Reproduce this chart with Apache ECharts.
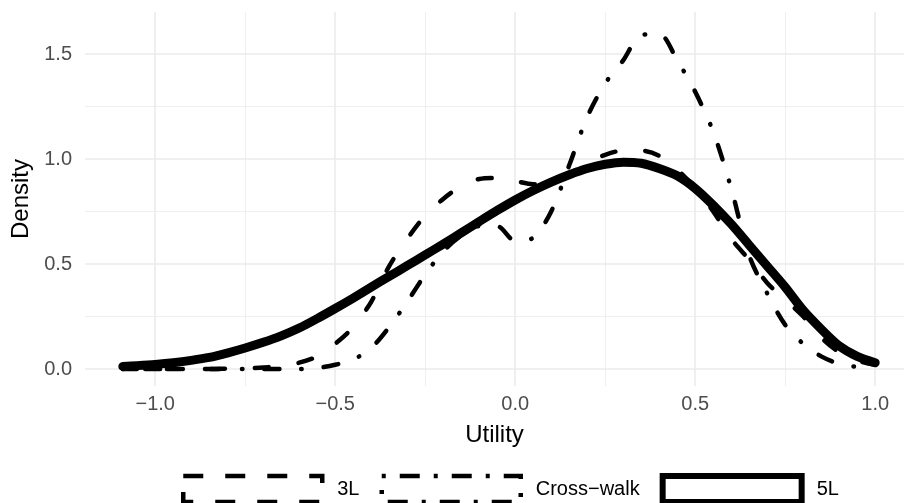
<!DOCTYPE html>
<html><head><meta charset="utf-8">
<script src="https://cdn.jsdelivr.net/npm/echarts@6/dist/echarts.min.js"></script>
<style>html,body{margin:0;padding:0;background:#fff}#c{width:904px;height:503px}</style>
</head><body><div id="c"></div>
<script>
const utility = [-1.09,-1.05,-1.0,-0.95,-0.9,-0.85,-0.8,-0.75,-0.7,-0.65,-0.6,-0.55,-0.5,-0.45,-0.4,-0.35,-0.3,-0.25,-0.2,-0.15,-0.1,-0.05,0.0,0.05,0.1,0.15,0.2,0.25,0.3,0.35,0.4,0.45,0.5,0.55,0.6,0.65,0.7,0.75,0.8,0.85,0.9,0.95,1.0];
const density3L = [0,0,0,0,0,0,0.002,0.004,0.007,0.015,0.03,0.06,0.12,0.2,0.32,0.49,0.62,0.73,0.81,0.87,0.905,0.91,0.895,0.88,0.885,0.93,0.98,1.02,1.04,1.04,1.015,0.95,0.86,0.75,0.62,0.52,0.41,0.33,0.25,0.15,0.08,0.04,0.02];
const densityCrosswalk = [0,0,0,0,0,0,0,0,0,0,0,0.005,0.02,0.045,0.1,0.2,0.32,0.45,0.56,0.635,0.68,0.68,0.61,0.625,0.75,0.97,1.2,1.36,1.47,1.59,1.595,1.47,1.32,1.13,0.86,0.54,0.36,0.21,0.12,0.06,0.025,0.01,0.003];
const density5L = [0.012,0.016,0.022,0.03,0.041,0.055,0.076,0.1,0.127,0.158,0.195,0.24,0.288,0.338,0.39,0.441,0.492,0.543,0.595,0.648,0.702,0.755,0.805,0.85,0.89,0.925,0.955,0.975,0.985,0.98,0.955,0.92,0.86,0.78,0.69,0.59,0.49,0.39,0.28,0.19,0.11,0.06,0.03];
const seriesNames = ['3L', 'Cross\u2212walk', '5L'];
const xTicks = [-1, -0.5, 0, 0.5, 1];
const xMinorTicks = [-0.75, -0.25, 0.25, 0.75];
const yTicks = [0, 0.5, 1, 1.5];
const yMinorTicks = [0.25, 0.75, 1.25];

const pairs = ys => utility.map((x, i) => [x, ys[i]]);
const fmt = v => (v < 0 ? '\u2212' : '') + Math.abs(v).toFixed(1);
const FONT = 'Liberation Sans';
const gridColor = '#ebebeb';
const XMIN = -1.195, XMAX = 1.08, YMIN = -0.081, YMAX = 1.70;

const chart = echarts.init(document.getElementById('c'), null, {renderer: 'canvas'});
chart.setOption({
  animation: false,
  backgroundColor: '#fff',
  textStyle: {fontFamily: FONT},
  grid: {left: 85, right: 0, top: 12, bottom: 117, containLabel: false},
  xAxis: [{
    type: 'value', min: XMIN, max: XMAX,
    axisLine: {show: false},
    axisTick: {show: false, customValues: xTicks},
    axisLabel: {customValues: xTicks, formatter: fmt, fontSize: 20, color: '#4d4d4d', margin: 8, fontFamily: FONT},
    splitLine: {show: true, lineStyle: {color: gridColor, width: 1.6}},
    name: 'Utility', nameLocation: 'middle', nameGap: 37,
    nameTextStyle: {fontSize: 24, color: '#000', fontFamily: FONT}
  }, {
    type: 'value', min: XMIN, max: XMAX, position: 'bottom',
    axisLine: {show: false},
    axisTick: {show: false, customValues: xMinorTicks},
    axisLabel: {show: false, customValues: xMinorTicks},
    splitLine: {show: true, lineStyle: {color: gridColor, width: 0.8}}
  }],
  yAxis: [{
    type: 'value', min: YMIN, max: YMAX,
    axisLine: {show: false},
    axisTick: {show: false, customValues: yTicks},
    axisLabel: {customValues: yTicks, formatter: fmt, fontSize: 20, color: '#4d4d4d', margin: 13, fontFamily: FONT},
    splitLine: {show: true, lineStyle: {color: gridColor, width: 1.6}},
    name: 'Density', nameLocation: 'middle', nameGap: 48, nameRotate: 90,
    nameTextStyle: {fontSize: 24, color: '#000', fontFamily: FONT}
  }, {
    type: 'value', min: YMIN, max: YMAX, position: 'left',
    axisLine: {show: false},
    axisTick: {show: false, customValues: yMinorTicks},
    axisLabel: {show: false, customValues: yMinorTicks},
    splitLine: {show: true, lineStyle: {color: gridColor, width: 0.8}}
  }],
  legend: {
    orient: 'horizontal', left: 181, top: 473, padding: 0,
    itemWidth: 139, itemHeight: 26, itemGap: 20,
    textStyle: {fontSize: 20, color: '#000', fontFamily: FONT, padding: [0, 0, 0, 10]},
    selectedMode: false,
    data: [
      {name: seriesNames[0], icon: 'rect', itemStyle: {color: '#fff', borderColor: '#000', borderWidth: 4.5, borderType: [20, 22]}},
      {name: seriesNames[1], icon: 'rect', itemStyle: {color: '#fff', borderColor: '#000', borderWidth: 4.5, borderType: [4, 14, 20, 14]}},
      {name: seriesNames[2], icon: 'rect', itemStyle: {color: '#fff', borderColor: '#000', borderWidth: 6, borderType: 'solid'}}
    ]
  },
  series: [
    {name: seriesNames[0], type: 'line', data: pairs(density3L), showSymbol: false, symbol: 'none', smooth: 0.3,
     lineStyle: {color: '#000', width: 4.5, type: [14, 30], cap: 'round', join: 'round'}, itemStyle: {color: '#000'}, z: 2},
    {name: seriesNames[1], type: 'line', data: pairs(densityCrosswalk), showSymbol: false, symbol: 'none', smooth: 0.3,
     lineStyle: {color: '#000', width: 4.5, type: [0.5, 22, 15, 22], cap: 'round', join: 'round'}, itemStyle: {color: '#000'}, z: 2},
    {name: seriesNames[2], type: 'line', data: pairs(density5L), showSymbol: false, symbol: 'none', smooth: 0.3,
     lineStyle: {color: '#000', width: 9, type: 'solid', cap: 'round', join: 'round'}, itemStyle: {color: '#000'}, z: 3}
  ]
});
</script></body></html>
